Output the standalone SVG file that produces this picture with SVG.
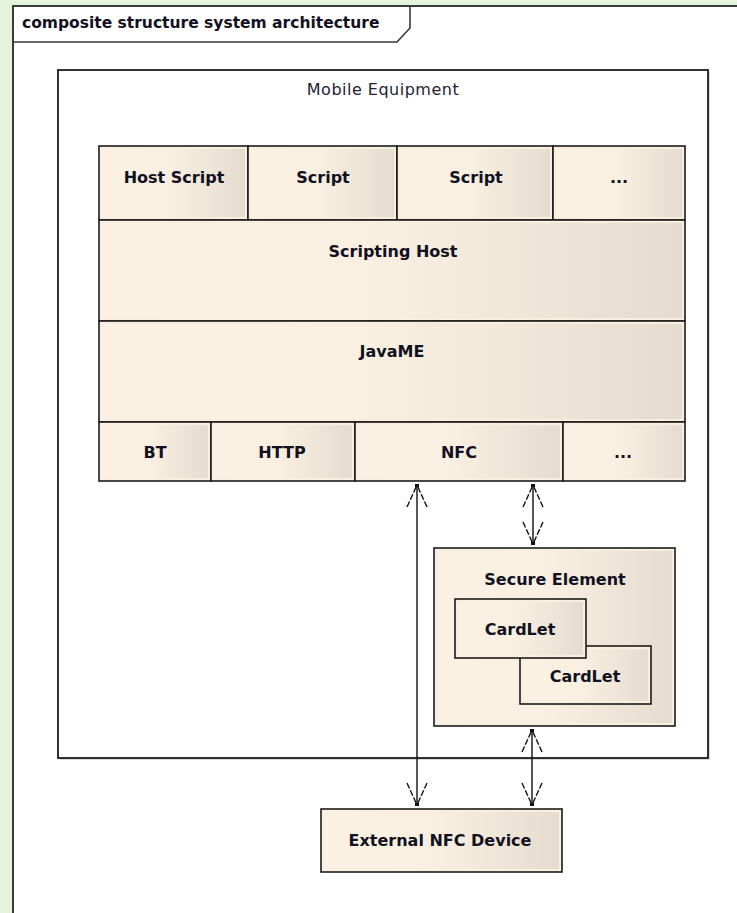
<svg xmlns="http://www.w3.org/2000/svg" width="737" height="913" viewBox="0 0 737 913">
<defs>
<linearGradient id="cellGrad" x1="0" y1="0" x2="1" y2="0">
<stop offset="0" stop-color="#fbf1e3"/>
<stop offset="0.45" stop-color="#faf0e2"/>
<stop offset="1" stop-color="#e5dccf"/>
</linearGradient>
<marker id="arr" viewBox="-26 -12 28 24" refX="0" refY="0" markerWidth="28" markerHeight="24" markerUnits="userSpaceOnUse" orient="auto-start-reverse">
<path d="M-23,-10 L-1,0 M-23,10 L-1,0" fill="none" stroke="#111" stroke-width="1.4" stroke-dasharray="6 2"/>
<rect x="-3" y="-2" width="3" height="4" fill="#111"/>
</marker>
</defs>
<style>
.bg{fill:#e4f3da}
.frame{fill:#ffffff;stroke:#3a3a3a;stroke-width:2}
.cell{fill:#f9efe1;stroke:#1c1c1c;stroke-width:1.6}
.inner{fill:url(#cellGrad)}
.box{fill:#ffffff;stroke:#1c1c1c;stroke-width:1.8}
.lbl{font-family:"DejaVu Sans","Verdana",sans-serif;font-weight:bold;font-size:16px;fill:#111122;text-anchor:middle}
.title{font-family:"DejaVu Sans","Verdana",sans-serif;font-weight:bold;font-size:15.5px;fill:#111122}
.reg{font-family:"DejaVu Sans","Verdana",sans-serif;font-size:16px;letter-spacing:0.5px;fill:#222233;text-anchor:middle}
.conn{stroke:#111;stroke-width:1.4;fill:none}
</style>

<rect class="bg" x="0" y="0" width="737" height="913"/>

<g id="frame">
<rect class="frame" x="13" y="6" width="740" height="920"/>
<path d="M13,42 L397,42 L410,28 L410,6" fill="none" stroke="#3a3a3a" stroke-width="1.6"/>
<text class="title" x="22" y="28">composite structure system architecture</text>
</g>

<g id="mobile-equipment">
<rect x="60" y="72" width="650" height="688" fill="#d8d8d8"/>
<rect class="box" x="58" y="70" width="650" height="688"/>
<text class="reg" x="383" y="95">Mobile Equipment</text>
</g>

<g id="host-script">
<rect class="cell" x="99" y="146" width="149" height="74"/>
<rect class="inner" x="102" y="149" width="143" height="68"/>
<text class="lbl" x="174" y="183">Host Script</text>
</g>
<g id="script-1">
<rect class="cell" x="248" y="146" width="149" height="74"/>
<rect class="inner" x="251" y="149" width="143" height="68"/>
<text class="lbl" x="323" y="183">Script</text>
</g>
<g id="script-2">
<rect class="cell" x="397" y="146" width="156" height="74"/>
<rect class="inner" x="400" y="149" width="150" height="68"/>
<text class="lbl" x="476" y="183">Script</text>
</g>
<g id="script-more">
<rect class="cell" x="553" y="146" width="132" height="74"/>
<rect class="inner" x="556" y="149" width="126" height="68"/>
<text class="lbl" x="619" y="183">...</text>
</g>

<g id="scripting-host">
<rect class="cell" x="99" y="220" width="586" height="101"/>
<rect class="inner" x="102" y="223" width="580" height="95"/>
<text class="lbl" x="393" y="257">Scripting Host</text>
</g>

<g id="javame">
<rect class="cell" x="99" y="321" width="586" height="101"/>
<rect class="inner" x="102" y="324" width="580" height="95"/>
<text class="lbl" x="392" y="357">JavaME</text>
</g>

<g id="bt">
<rect class="cell" x="99" y="422" width="112" height="59"/>
<rect class="inner" x="102" y="425" width="106" height="53"/>
<text class="lbl" x="155" y="458">BT</text>
</g>
<g id="http">
<rect class="cell" x="211" y="422" width="144" height="59"/>
<rect class="inner" x="214" y="425" width="138" height="53"/>
<text class="lbl" x="282" y="458">HTTP</text>
</g>
<g id="nfc">
<rect class="cell" x="355" y="422" width="208" height="59"/>
<rect class="inner" x="358" y="425" width="202" height="53"/>
<text class="lbl" x="459" y="458">NFC</text>
</g>
<g id="io-more">
<rect class="cell" x="563" y="422" width="122" height="59"/>
<rect class="inner" x="566" y="425" width="116" height="53"/>
<text class="lbl" x="623" y="458">...</text>
</g>

<g id="secure-element">
<rect class="cell" x="434" y="548" width="241" height="178"/>
<rect class="inner" x="437" y="551" width="235" height="172"/>
<text class="lbl" x="555" y="585">Secure Element</text>
</g>

<g id="cardlet-2">
<rect class="cell" x="520" y="646" width="131" height="58"/>
<rect class="inner" x="523" y="649" width="125" height="52"/>
<text class="lbl" x="585" y="682">CardLet</text>
</g>

<g id="cardlet-1">
<rect class="cell" x="455" y="599" width="131" height="59"/>
<rect class="inner" x="458" y="602" width="125" height="53"/>
<text class="lbl" x="520" y="635">CardLet</text>
</g>

<g id="external-nfc-device">
<rect class="cell" x="321" y="809" width="241" height="63"/>
<rect class="inner" x="324" y="812" width="235" height="57"/>
<text class="lbl" x="440" y="846">External NFC Device</text>
</g>

<g id="connectors">
<line class="conn" x1="417" y1="484" x2="417" y2="806" marker-start="url(#arr)" marker-end="url(#arr)"/>
<line class="conn" x1="533" y1="484" x2="533" y2="545" marker-start="url(#arr)" marker-end="url(#arr)"/>
<line class="conn" x1="532" y1="729" x2="532" y2="806" marker-start="url(#arr)" marker-end="url(#arr)"/>
</g>
</svg>
